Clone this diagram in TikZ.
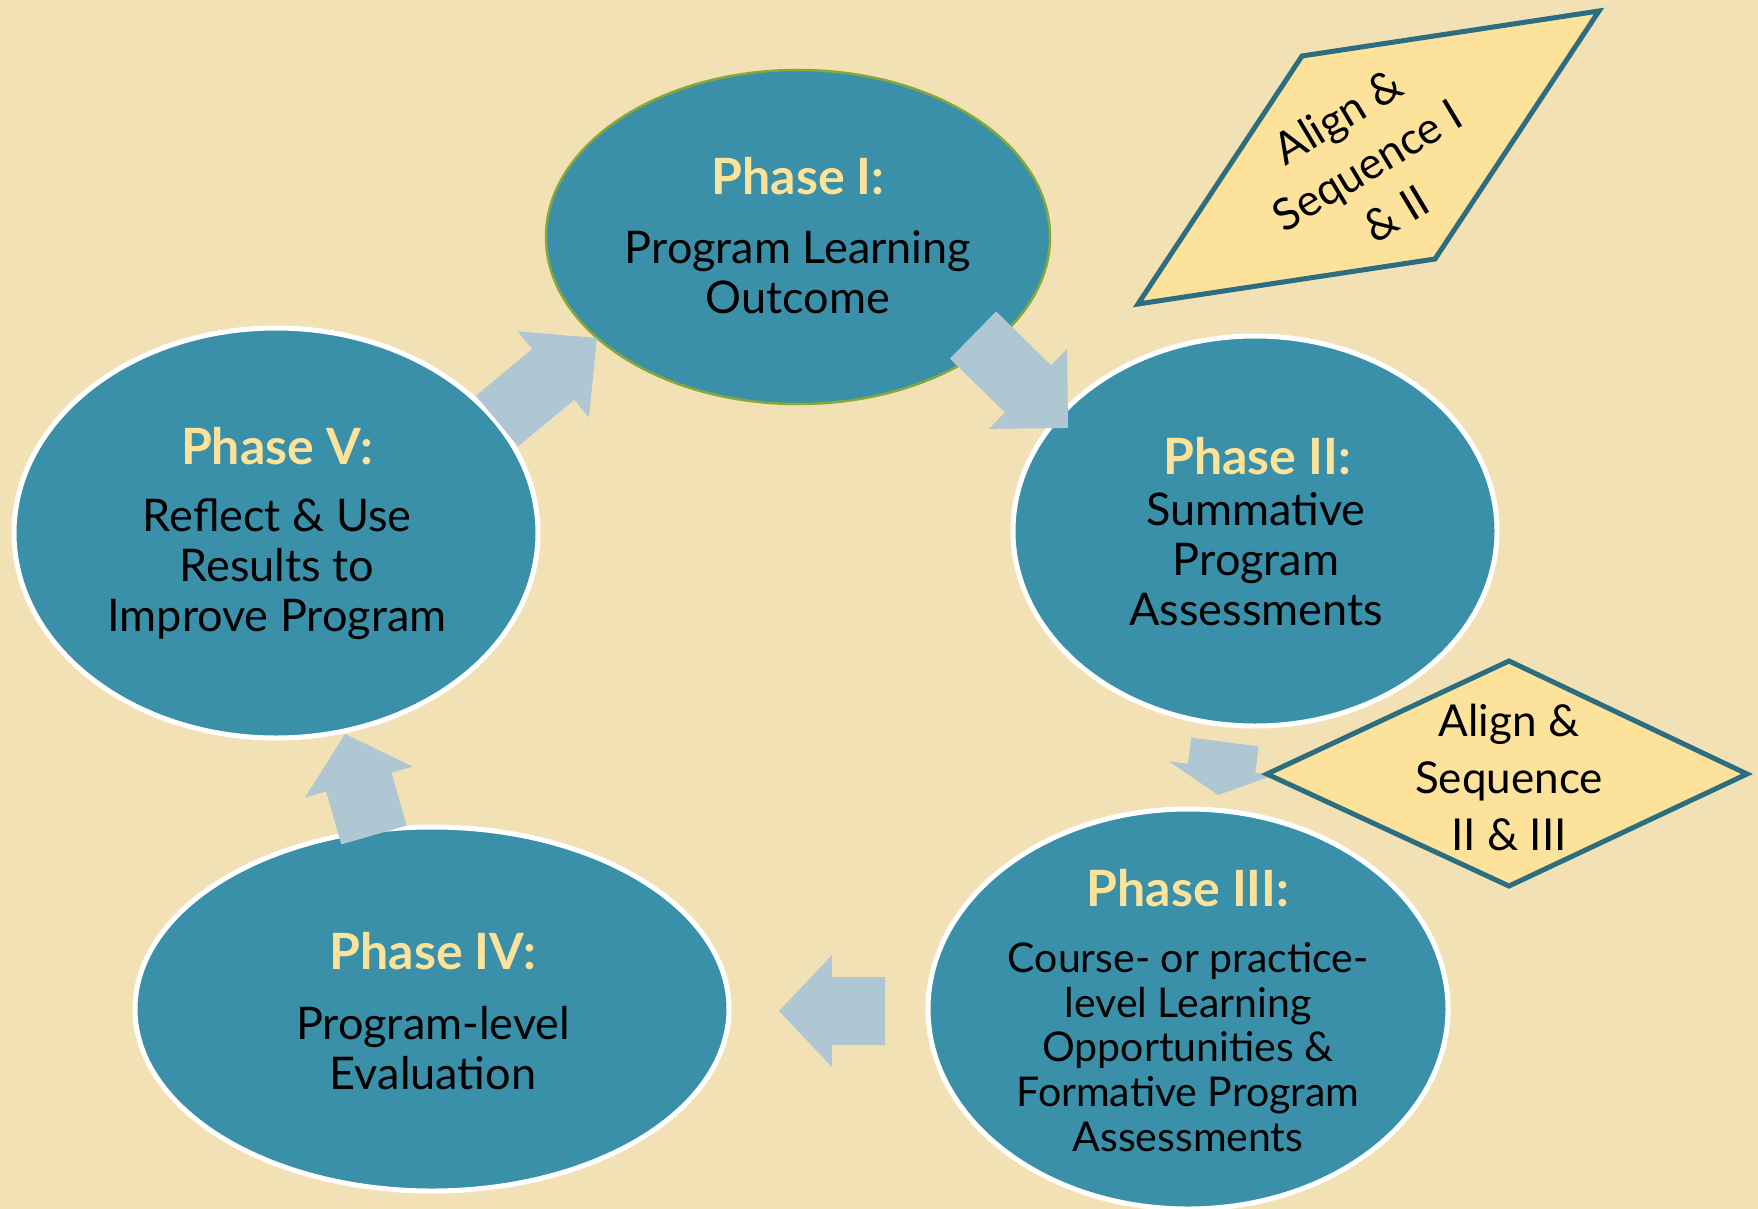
\documentclass[tikz,border=0pt]{standalone}
\usepackage{fontspec}
\setmainfont{Lato}
\usetikzlibrary{shapes.geometric,calc}
\definecolor{bgc}{HTML}{F3E1B6}
\definecolor{ellc}{HTML}{3A90A8}
\definecolor{headc}{HTML}{FDE29A}
\definecolor{boxc}{HTML}{FDE29C}
\definecolor{boxline}{HTML}{2C6E80}
\definecolor{arrc}{HTML}{AFC7D2}
\definecolor{greenc}{HTML}{86A83A}
\newcommand\blockarrow[5]{%
  \coordinate (#1-b) at ($(#2)!#5!(#1)$);
  \fill[arrc] ($(#1)!#3!90:(#2)$) -- ($(#1-b)!#3!90:(#2)$) -- ($(#1-b)!#4!90:(#2)$)
    -- (#2) -- ($(#1-b)!#4!-90:(#2)$) -- ($(#1-b)!#3!-90:(#2)$) -- ($(#1)!#3!-90:(#2)$) -- cycle;}
\begin{document}
\begin{tikzpicture}[x=1pt,y=-1pt,
  phase/.style={ellipse, fill=ellc, draw=white, line width=5pt, inner sep=0pt},
  headtxt/.style={font=\fontsize{50}{52}\selectfont\bfseries, text=headc, inner sep=0pt},
  bodytxt/.style={font=\fontsize{45}{50}\selectfont, align=center, text=black, inner sep=0pt},
  smalltxt/.style={font=\fontsize{41}{44.8}\selectfont, align=center, text=black, inner sep=0pt},
  boxtxt/.style={font=\fontsize{44}{57}\selectfont, align=center, text=black, inner sep=0pt},
  boxshape/.style={fill=boxc, draw=boxline, line width=5pt, line join=miter}]
\fill[bgc] (0,0) rectangle (1758,1209);
\useasboundingbox (0,0) rectangle (1758,1209);

% ellipses
\node[phase, draw=greenc, line width=2.5pt, minimum width=504pt, minimum height=334pt] (p1) at (798,237) {};
\node[phase, minimum width=484pt, minimum height=390pt] (p2) at (1255,531) {};
\node[phase, minimum width=520pt, minimum height=400pt] (p3) at (1188,1009) {};
\node[phase, minimum width=594pt, minimum height=364pt] (p4) at (432,1009) {};
\node[phase, minimum width=524pt, minimum height=410pt] (p5) at (276,533) {};

% texts
\node[headtxt] (h1) at (798,176) {Phase I:};
\node[bodytxt] (b1) at (798,272) {Program Learning\\Outcome};
\node[headtxt] (h2) at (1257,456) {Phase II:};
\node[bodytxt] (b2) at (1256,559) {Summative\\Program\\Assessments};
\node[headtxt] (h3) at (1188,888) {Phase III:};
\node[smalltxt] (b3) at (1188,1047) {Course- or practice-\\level Learning\\Opportunities \&\\Formative Program\\Assessments};
\node[headtxt] (h4) at (433,951) {Phase IV:};
\node[bodytxt] (b4) at (433,1048) {Program-level\\Evaluation};
\node[headtxt] (h5) at (277,446) {Phase V:};
\node[bodytxt] (b5) at (277,569) {Reflect \& Use\\Results to\\Improve Program};

% block arrows
\coordinate (a1t) at (497,421); \coordinate (a1h) at (597,338);
\coordinate (a2t) at (973,335); \coordinate (a2h) at (1068,428);
\coordinate (a3t) at (1225,742); \coordinate (a3h) at (1218,795);
\coordinate (a4t) at (885,1011); \coordinate (a4h) at (779,1011);
\coordinate (a5t) at (374,835); \coordinate (a5h) at (345,734);
\blockarrow{a1t}{a1h}{33pt}{56pt}{57pt}
\blockarrow{a2t}{a2h}{33pt}{56pt}{56pt}
\blockarrow{a3t}{a3h}{34pt}{53pt}{27pt}
\blockarrow{a4t}{a4h}{34pt}{56pt}{53pt}
\blockarrow{a5t}{a5h}{34pt}{56pt}{50pt}

% parallelogram
\coordinate (qa) at (1302,56); \coordinate (qb) at (1599,11);
\coordinate (qc) at (1435,259); \coordinate (qd) at (1138,304);
\draw[boxshape] (qa) -- (qb) -- (qc) -- (qd) -- cycle;
\node[boxtxt, rotate=31] (t1) at (1367,165) {Align \&\\Sequence I\\\& II};

% diamond
\coordinate (da) at (1509,661); \coordinate (db) at (1747,774);
\coordinate (dc) at (1509,886); \coordinate (dd) at (1267,774);
\draw[boxshape] (da) -- (db) -- (dc) -- (dd) -- cycle;
\node[boxtxt] (t2) at (1509,777) {Align \&\\Sequence\\II \& III};
\end{tikzpicture}
\end{document}
